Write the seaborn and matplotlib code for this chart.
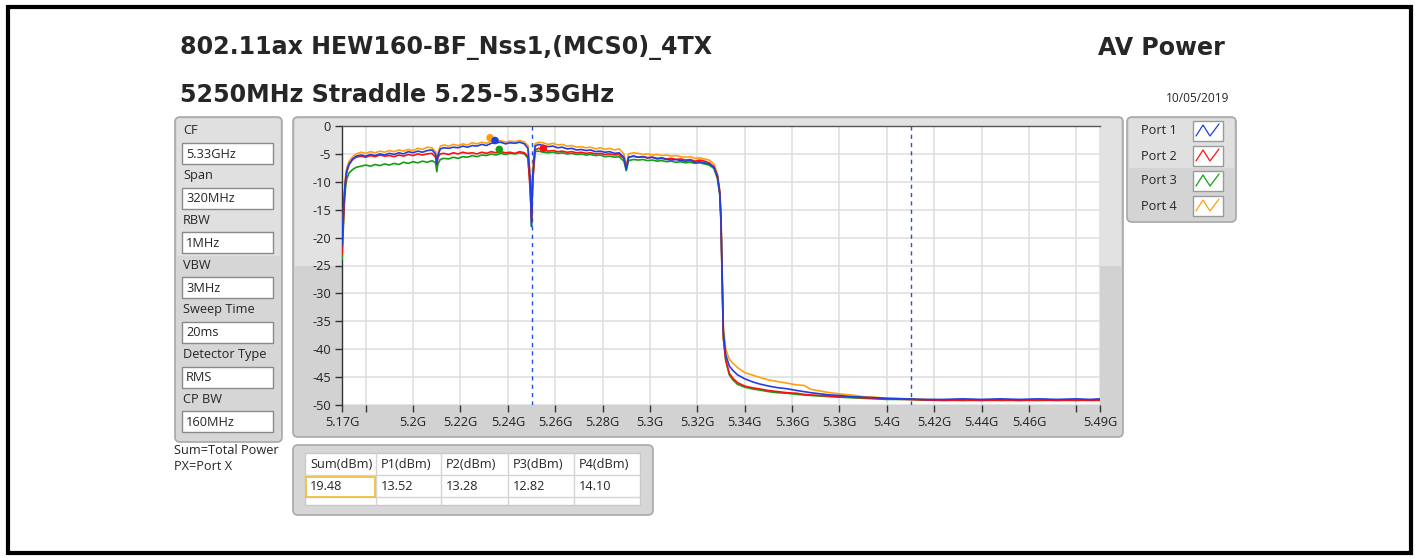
import matplotlib
matplotlib.use('Agg')
import matplotlib.pyplot as plt
import matplotlib.transforms as mtransforms
from matplotlib.patches import FancyBboxPatch, Rectangle
from matplotlib.lines import Line2D
import seaborn as sns
import pandas as pd

sns.set_theme(style='white')
plt.rcParams['font.family'] = ['Open Sans', 'DejaVu Sans']
plt.rcParams['axes.unicode_minus'] = False

# ---- data ----
freq = [
    5.1700, 5.1705, 5.1710, 5.1715, 5.1720, 5.1730, 5.1745, 5.1760, 5.1780, 5.1800,
    5.1820, 5.1840, 5.1860, 5.1880, 5.1900, 5.1920, 5.1940, 5.1960, 5.1980, 5.2000,
    5.2020, 5.2040, 5.2060, 5.2080, 5.2095, 5.2100, 5.2105, 5.2115, 5.2130, 5.2150,
    5.2170, 5.2190, 5.2210, 5.2230, 5.2250, 5.2270, 5.2290, 5.2310, 5.2330, 5.2350,
    5.2370, 5.2390, 5.2410, 5.2430, 5.2450, 5.2470, 5.2485, 5.2495, 5.2500, 5.2505,
    5.2515, 5.2530, 5.2550, 5.2570, 5.2590, 5.2610, 5.2630, 5.2650, 5.2670, 5.2690,
    5.2710, 5.2730, 5.2750, 5.2770, 5.2790, 5.2810, 5.2830, 5.2850, 5.2870, 5.2890,
    5.2900, 5.2910, 5.2930, 5.2950, 5.2970, 5.2990, 5.3010, 5.3030, 5.3050, 5.3070,
    5.3090, 5.3110, 5.3130, 5.3150, 5.3170, 5.3190, 5.3210, 5.3230, 5.3250, 5.3270,
    5.3285, 5.3295, 5.3300, 5.3305, 5.3310, 5.3320, 5.3335, 5.3350, 5.3370, 5.3400,
    5.3430, 5.3460, 5.3500, 5.3540, 5.3580, 5.3620, 5.3650, 5.3680, 5.3720, 5.3760,
    5.3800, 5.3850, 5.3900, 5.3950, 5.4000, 5.4080, 5.4160, 5.4240, 5.4320, 5.4400,
    5.4480, 5.4560, 5.4640, 5.4720, 5.4800, 5.4860, 5.4900,
]

port1 = [
    -21.5, -16.0, -12.0, -9.5, -8.0, -6.8, -5.9, -5.4, -5.2, -5.4,
    -5.1, -5.3, -5.0, -5.2, -4.9, -5.1, -4.8, -5.0, -4.6, -4.8,
    -4.5, -4.7, -4.4, -4.3, -5.0, -6.8, -5.3, -4.1, -3.9, -4.0,
    -3.8, -3.9, -3.6, -3.8, -3.5, -3.6, -3.3, -3.5, -3.1, -3.0,
    -2.9, -3.2, -3.0, -3.1, -2.9, -3.2, -4.0, -10.0, -18.0, -9.0,
    -3.6, -3.3, -3.5, -3.7, -3.6, -3.9, -3.8, -4.1, -4.0, -4.3,
    -4.2, -4.4, -4.3, -4.6, -4.5, -4.7, -4.6, -4.9, -4.8, -5.6,
    -7.8, -5.6, -5.4, -5.6, -5.5, -5.7, -5.6, -5.9, -5.8, -6.0,
    -6.1, -6.0, -6.2, -6.3, -6.2, -6.5, -6.4, -6.6, -6.8, -7.4,
    -9.0, -12.0, -17.0, -27.0, -37.0, -41.0, -43.0, -43.8, -44.6, -45.3,
    -45.8, -46.2, -46.6, -46.9, -47.1, -47.4, -47.6, -47.8, -48.0, -48.2,
    -48.3, -48.5, -48.6, -48.7, -48.8, -48.9, -49.0, -49.0, -48.9, -49.0,
    -48.9, -49.0, -48.9, -49.0, -48.9, -49.0, -48.9,
]

port2 = [
    -23.0, -18.0, -13.0, -10.0, -8.3, -6.9, -6.0, -5.6, -5.4, -5.6,
    -5.3, -5.5, -5.2, -5.4, -5.3, -5.5, -5.2, -5.4, -5.1, -5.3,
    -5.0, -5.2, -5.0, -4.9, -5.6, -7.0, -5.6, -5.0, -4.9, -5.1,
    -4.8, -5.0, -4.7, -4.9, -4.8, -5.0, -4.7, -4.9, -4.6, -4.8,
    -4.6, -4.8, -4.7, -4.9, -4.6, -4.8, -5.5, -12.0, -17.0, -10.0,
    -4.3, -4.0, -4.3, -4.5, -4.4, -4.6, -4.5, -4.7, -4.6, -4.8,
    -4.7, -4.9, -4.8, -5.0, -4.9, -5.1, -5.0, -5.2, -5.1, -5.8,
    -7.5, -5.6, -5.4, -5.6, -5.5, -5.7, -5.6, -5.8, -5.7, -5.9,
    -5.8, -6.0, -5.9, -6.1, -6.0, -6.3, -6.1, -6.3, -6.6, -7.3,
    -9.0, -12.0, -17.0, -28.0, -38.0, -42.0, -44.3, -45.2, -46.0, -46.6,
    -46.9, -47.1, -47.4, -47.6, -47.8, -47.9, -48.1, -48.2, -48.3, -48.4,
    -48.5, -48.6, -48.7, -48.8, -48.9, -49.0, -49.1, -49.2, -49.1, -49.2,
    -49.1, -49.2, -49.1, -49.2, -49.1, -49.2, -49.1,
]

port3 = [
    -24.0, -19.0, -14.0, -11.0, -9.5, -8.4, -7.8, -7.4, -7.2, -7.0,
    -7.2, -6.9, -7.1, -6.8, -7.0, -6.7, -6.9, -6.5, -6.7, -6.4,
    -6.6, -6.3, -6.5, -6.2, -6.6, -8.2, -6.8, -6.0, -5.8, -5.9,
    -5.6, -5.8, -5.5, -5.6, -5.3, -5.5, -5.2, -5.3, -5.0, -5.2,
    -4.9, -5.1, -4.9, -5.0, -4.8, -5.0, -5.8, -11.0, -18.0, -10.0,
    -4.6, -4.5, -4.7, -4.8, -4.7, -4.9, -4.8, -5.0, -4.9, -5.1,
    -5.0, -5.2, -5.1, -5.3, -5.2, -5.5, -5.4, -5.6, -5.5, -6.3,
    -8.0, -6.2, -6.0, -6.1, -6.0, -6.2, -6.1, -6.3, -6.2, -6.4,
    -6.3, -6.5, -6.4, -6.6, -6.5, -6.7, -6.6, -6.8, -7.0, -7.6,
    -9.5, -12.5, -17.5, -28.0, -38.0, -42.0, -44.6, -45.5, -46.3, -46.8,
    -47.1, -47.3, -47.6, -47.8, -47.9, -48.1, -48.2, -48.3, -48.4, -48.5,
    -48.6, -48.7, -48.8, -48.9, -49.0, -49.0, -49.1, -49.1, -49.2, -49.1,
    -49.2, -49.1, -49.2, -49.1, -49.2, -49.1, -49.2,
]

port4 = [
    -22.5, -17.0, -12.0, -9.0, -7.5, -6.3, -5.5, -5.0, -4.7, -4.9,
    -4.6, -4.8, -4.5, -4.7, -4.4, -4.6, -4.3, -4.5, -4.2, -4.4,
    -4.0, -4.2, -3.8, -3.9, -4.6, -6.5, -4.8, -3.6, -3.4, -3.6,
    -3.3, -3.5, -3.2, -3.4, -3.0, -3.2, -2.9, -3.1, -2.7, -2.8,
    -2.6, -2.9, -2.7, -2.8, -2.6, -2.9, -3.5, -9.0, -16.0, -8.0,
    -3.2, -2.9, -3.0, -3.3, -3.1, -3.4, -3.3, -3.6, -3.5, -3.8,
    -3.7, -3.9, -3.8, -4.1, -3.9, -4.2, -4.0, -4.3, -4.1, -5.0,
    -7.0, -5.0, -4.8, -4.9, -5.1, -5.0, -5.2, -5.1, -5.3, -5.2,
    -5.4, -5.3, -5.5, -5.6, -5.5, -5.8, -5.7, -5.9, -6.1, -6.8,
    -8.5, -11.5, -16.0, -26.0, -36.0, -40.0, -41.8, -42.5, -43.3, -44.2,
    -44.6, -45.0, -45.5, -45.8, -46.1, -46.4, -46.5, -47.2, -47.5, -47.8,
    -48.0, -48.2, -48.5, -48.6, -48.8, -48.9, -49.0, -49.1, -49.0, -49.1,
    -49.0, -49.2, -49.0, -49.1, -49.0, -49.1, -49.0,
]

ports = ['Port 1', 'Port 2', 'Port 3', 'Port 4']
port_colors = ['#1f3fe0', '#ff1010', '#12a012', '#ffa010']

# peak markers
marker_port = ['Port 4', 'Port 1', 'Port 3', 'Port 2']
marker_freq = [5.2325, 5.2346, 5.2364, 5.2550]
marker_level = [-2.1, -2.6, -4.2, -4.0]

cp_edges = [5.25, 5.41]

x_ticks = [5.17, 5.18, 5.20, 5.22, 5.24, 5.26, 5.28, 5.30, 5.32, 5.34, 5.36, 5.38, 5.40, 5.42, 5.44, 5.46, 5.48, 5.49]
x_labels = ['5.17G', '', '5.2G', '5.22G', '5.24G', '5.26G', '5.28G', '5.3G', '5.32G', '5.34G',
            '5.36G', '5.38G', '5.4G', '5.42G', '5.44G', '5.46G', '', '5.49G']
y_ticks = [0, -5, -10, -15, -20, -25, -30, -35, -40, -45, -50]

settings_names = ['CF', 'Span', 'RBW', 'VBW', 'Sweep Time', 'Detector Type', 'CP BW']
settings_values = ['5.33GHz', '320MHz', '1MHz', '3MHz', '20ms', 'RMS', '160MHz']

table_header = ['Sum(dBm)', 'P1(dBm)', 'P2(dBm)', 'P3(dBm)', 'P4(dBm)']
table_values = ['19.48', '13.52', '13.28', '12.82', '14.10']

title_left = '802.11ax HEW160-BF_Nss1,(MCS0)_4TX'
title_right = 'AV Power'
subtitle = '5250MHz Straddle 5.25-5.35GHz'
date_text = '10/05/2019'

# ---- figure ----
W, H = 1419, 559
fig = plt.figure(figsize=(W / 100, H / 100), dpi=100)
fig.patch.set_facecolor('white')
px = mtransforms.IdentityTransform()
SMALL = 9.2
BIG = dict(fontsize=17.1, fontweight='bold', family='DejaVu Sans', va='center')


def panel(x0, y0, x1, y1, fc, ec='#a8a8a8', lw=1.2, r=5, z=0):
    p = FancyBboxPatch((x0, H - y1), x1 - x0, y1 - y0,
                       boxstyle='round,pad=0,rounding_size=%d' % r,
                       transform=px, fc=fc, ec=ec, lw=lw, zorder=z)
    fig.patches.append(p)


def rect(x0, y0, x1, y1, fc, ec='none', lw=1.0, z=1):
    p = Rectangle((x0, H - y1), x1 - x0, y1 - y0, transform=px, fc=fc, ec=ec, lw=lw, zorder=z)
    fig.patches.append(p)


def txt(x, y, s, **kw):
    fig.text(x / W, 1 - y / H, s, **kw)


# outer frame
rect(8, 7, 1411, 553, 'none', ec='black', lw=3, z=5)

# titles
txt(180, 48, title_left, ha='left', **BIG)
txt(1225, 48, title_right, ha='right', **BIG)
txt(180, 95, subtitle, ha='left', **BIG)
txt(1229, 99, date_text, fontsize=8.6, va='center', ha='right')

# graph panel (light top, darker bottom)
panel(293, 117, 1123, 437, '#d2d2d2', z=-2)
rect(295, 119, 1121, 266, '#e2e2e2', z=-1)

# settings panel
panel(175, 117, 282, 442, '#d6d6d6')
rect(177, 119, 280, 256, '#e0e0e0', z=0.5)
for i, (name, val) in enumerate(zip(settings_names, settings_values)):
    yl = 131 + i * 44.7
    txt(183, yl, name, fontsize=SMALL, va='center', ha='left')
    rect(182, yl + 12, 273, yl + 33, 'white', ec='#8a8a8a', lw=1.0, z=2)
    txt(186, yl + 23, val, fontsize=SMALL, va='center', ha='left')
txt(174, 451, 'Sum=Total Power', fontsize=SMALL, va='center', ha='left')
txt(174, 467, 'PX=Port X', fontsize=SMALL, va='center', ha='left')

# legend panel
panel(1127, 117, 1236, 222, '#d4d4d4')
rect(1129, 119, 1234, 168, '#e0e0e0', z=0.5)
for i, (name, col) in enumerate(zip(ports, port_colors)):
    yc = 131 + i * 25
    txt(1141, yc, name, fontsize=SMALL, va='center', ha='left')
    rect(1193, yc - 10, 1223, yc + 10, 'white', ec='#9a9a9a', lw=1.0, z=2)
    zx = [1196, 1203, 1210, 1219]
    zy = [yc + 5, yc - 6, yc + 5, yc - 7]
    fig.add_artist(Line2D(zx, [H - v for v in zy], transform=px, color=col, lw=0.9, zorder=3))

# table panel
panel(293, 445, 653, 515, '#d6d6d6')
rect(305, 453, 640, 505, 'white', ec='#c8c8c8', lw=1.0, z=1)
col_edges = [305, 376, 441, 508, 574, 639]
for xe in col_edges[1:-1]:
    fig.add_artist(Line2D([xe, xe], [H - 453, H - 505], transform=px, color='#d4d4d4', lw=1.0, zorder=2))
for ye in [475, 497]:
    fig.add_artist(Line2D([305, 640], [H - ye, H - ye], transform=px, color='#d4d4d4', lw=1.0, zorder=2))
for i, (hd, val) in enumerate(zip(table_header, table_values)):
    txt(col_edges[i] + 5, 464, hd, fontsize=SMALL, va='center', ha='left', zorder=4)
    txt(col_edges[i] + 5, 487, val, fontsize=SMALL, va='center', ha='left', zorder=4)
rect(306, 477, 375, 497, 'none', ec='#f0c040', lw=1.3, z=3)

# ---- spectrum axes ----
ax = fig.add_axes([342 / W, 1 - 405 / H, (1100 - 342) / W, (405 - 126) / H])
ax.set_zorder(10)
ax.set_facecolor('white')

df = pd.DataFrame({
    'freq': freq * 4,
    'level': port1 + port2 + port3 + port4,
    'port': [p for p in ports for _ in freq],
})
sns.lineplot(data=df, x='freq', y='level', hue='port',
             hue_order=['Port 4', 'Port 3', 'Port 2', 'Port 1'],
             palette=dict(zip(ports, port_colors)),
             estimator=None, sort=False, linewidth=1.2, legend=False, ax=ax, zorder=3)

mk = pd.DataFrame({'freq': marker_freq, 'level': marker_level, 'port': marker_port})
sns.scatterplot(data=mk, x='freq', y='level', hue='port',
                palette=dict(zip(ports, port_colors)), s=30, edgecolor='none',
                legend=False, ax=ax, zorder=4)

for f in cp_edges:
    ax.axvline(f, color='#2050e0', lw=1.0, ls=(0, (3, 3)), zorder=2)

ax.set_xlim(5.17, 5.49)
ax.set_ylim(-50, 0)
ax.set_xticks(x_ticks)
ax.set_xticklabels(x_labels)
ax.set_yticks(y_ticks)
ax.set_yticklabels([str(v) for v in y_ticks])
ax.grid(True, color='#e0e0e0', lw=1.2, zorder=0)
ax.set_axisbelow(True)
ax.tick_params(axis='both', direction='out', length=5, width=1, color='#333333',
               labelsize=9.2, labelcolor='#222222', pad=3)
ax.tick_params(axis='x', bottom=True)
ax.tick_params(axis='y', left=True)
ax.set_xlabel('')
ax.set_ylabel('')
for s in ['right', 'bottom']:
    ax.spines[s].set_visible(False)
ax.spines['left'].set_color('#333333')
ax.spines['top'].set_color('#555555')
ax.spines['left'].set_linewidth(1.0)
ax.spines['top'].set_linewidth(1.0)

fig.savefig('out.png', dpi=100)
